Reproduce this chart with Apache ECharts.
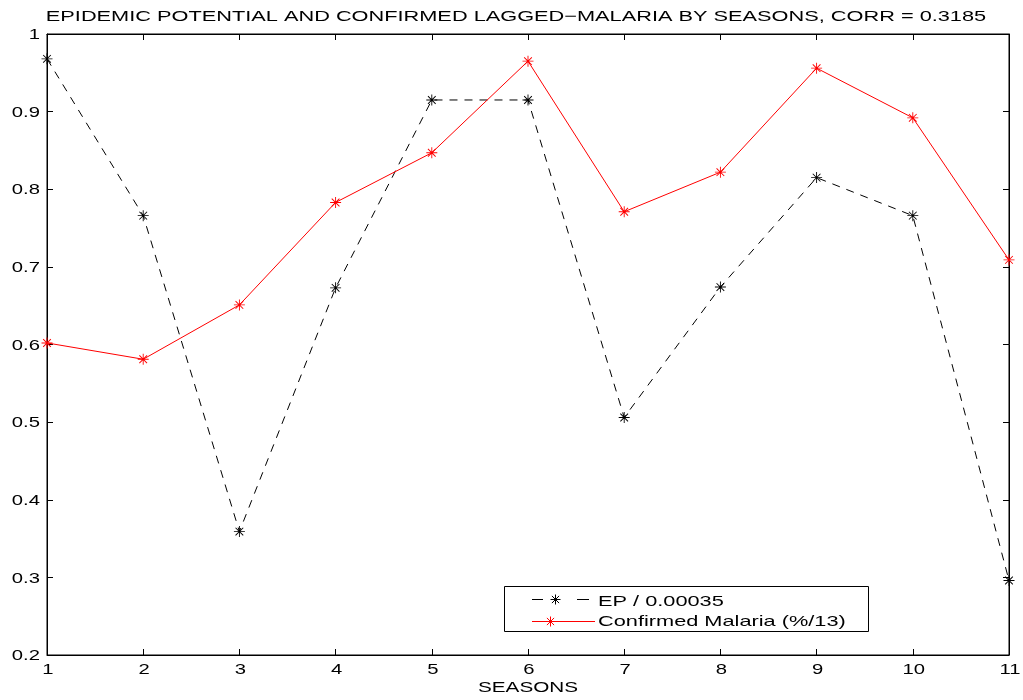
<!DOCTYPE html>
<html>
<head>
<meta charset="utf-8">
<script src="https://cdn.jsdelivr.net/npm/echarts@6/dist/echarts.min.js"></script>
<style>
  html, body { margin: 0; padding: 0; background: #fff; }
  #chart { width: 1023px; height: 700px; }
</style>
</head>
<body>
<div id="chart"></div>
<script>
// Seasons and the two normalised series
const seasons = [1, 2, 3, 4, 5, 6, 7, 8, 9, 10, 11];
const epValues = [0.968, 0.766, 0.359, 0.673, 0.915, 0.915, 0.506, 0.674, 0.815, 0.766, 0.296];
const malariaValues = [0.602, 0.581, 0.651, 0.783, 0.847, 0.965, 0.771, 0.822, 0.956, 0.892, 0.709];
const seriesNames = ['EP / 0.00035', 'Confirmed Malaria (%/13)'];
const xTickLabels = ['1', '2', '3', '4', '5', '6', '7', '8', '9', '10', '11'];
const yTickValues = [0.2, 0.3, 0.4, 0.5, 0.6, 0.7, 0.8, 0.9, 1];
const yTickLabels = ['0.2', '0.3', '0.4', '0.5', '0.6', '0.7', '0.8', '0.9', '1'];
const titleText = 'EPIDEMIC POTENTIAL AND CONFIRMED LAGGED\u2212MALARIA BY SEASONS, CORR = 0.3185';
const xAxisName = 'SEASONS';

// Asterisk marker built from four thin bars (+ and x overlaid)
const asterisk = 'path://M0,4.6L10,4.6L10,5.4L0,5.4Z M4.6,0L5.4,0L5.4,10L4.6,10Z ' +
  'M1.2,1.8L1.8,1.2L8.8,8.2L8.2,8.8Z M8.2,1.2L8.8,1.8L1.8,8.8L1.2,8.2Z';

const pairs = vals => seasons.map((s, i) => [s, vals[i]]);
const FONT = 'Liberation Sans, Arial, Helvetica, sans-serif';
const colors = ['#000000', '#ff0000'];

const chart = echarts.init(document.getElementById('chart'), null, { renderer: 'canvas' });

const tickStyle = { show: true, inside: true, length: 6, lineStyle: { color: '#000', width: 1 } };
const hiddenLabel = { show: false };

chart.setOption({
  backgroundColor: '#fff',
  animation: false,
  grid: {
    left: 47, right: 14, top: 34, bottom: 45,
    outerBoundsMode: 'none', containLabel: false,
    show: true, borderColor: '#000', borderWidth: 1
  },
  xAxis: [
    {
      type: 'value', min: 1, max: 11, interval: 1,
      axisLine: { show: true, onZero: false, lineStyle: { color: '#000', width: 1 } },
      axisTick: tickStyle, axisLabel: hiddenLabel, splitLine: { show: false }
    },
    {
      type: 'value', position: 'top', min: 1, max: 11, interval: 1,
      axisLine: { show: true, lineStyle: { color: '#000', width: 1 } },
      axisTick: tickStyle, axisLabel: hiddenLabel, splitLine: { show: false }
    }
  ],
  yAxis: [
    {
      type: 'value', min: 0.2, max: 1, interval: 0.1,
      axisLine: { show: true, onZero: false, lineStyle: { color: '#000', width: 1 } },
      axisTick: tickStyle, axisLabel: hiddenLabel, splitLine: { show: false }
    },
    {
      type: 'value', position: 'right', min: 0.2, max: 1, interval: 0.1,
      axisLine: { show: true, lineStyle: { color: '#000', width: 1 } },
      axisTick: tickStyle, axisLabel: hiddenLabel, splitLine: { show: false }
    }
  ],
  series: [
    {
      name: seriesNames[0],
      type: 'line',
      data: pairs(epValues),
      symbol: asterisk, symbolSize: 11, showAllSymbol: true,
      itemStyle: { color: colors[0] },
      lineStyle: { color: colors[0], width: 1, type: [8, 7] },
      z: 3
    },
    {
      name: seriesNames[1],
      type: 'line',
      data: pairs(malariaValues),
      symbol: asterisk, symbolSize: 11, showAllSymbol: true,
      itemStyle: { color: colors[1] },
      lineStyle: { color: colors[1], width: 1 },
      z: 4
    }
  ]
});

// Wide, horizontally stretched lettering used for all chart text
function label(text, x, y, align, size, stretch) {
  return {
    type: 'text', x: x, y: y, scaleX: stretch, scaleY: 1, z: 10,
    style: {
      text: text, x: 0, y: 0, fill: '#000',
      font: size + 'px ' + FONT,
      align: align, verticalAlign: 'middle',
      textAlign: align, textVerticalAlign: 'middle'
    }
  };
}

// Small asterisk drawn as four strokes, used in the legend samples
function star(cx, cy, r, color) {
  const d = r * 0.72;
  const segs = [
    [cx - r, cy, cx + r, cy],
    [cx, cy - r, cx, cy + r],
    [cx - d, cy - d, cx + d, cy + d],
    [cx - d, cy + d, cx + d, cy - d]
  ];
  return segs.map(s => ({
    type: 'line', z: 11,
    shape: { x1: s[0], y1: s[1], x2: s[2], y2: s[3] },
    style: { stroke: color, lineWidth: 1 }
  }));
}

const grid = chart.getModel().getComponent('grid').coordinateSystem.getRect();
const texts = [];

// Title above the plot box
texts.push(label(titleText, 516, 17, 'center', 15, 1.45));

// X tick labels under each season tick
seasons.forEach((s, i) => {
  const p = chart.convertToPixel({ xAxisIndex: 0, yAxisIndex: 0 }, [s, 0.2]);
  texts.push(label(xTickLabels[i], p[0] + 1, p[1] + 15, 'center', 15, 1.35));
});

// Y tick labels left of the box
yTickValues.forEach((v, i) => {
  const p = chart.convertToPixel({ xAxisIndex: 0, yAxisIndex: 0 }, [1, v]);
  texts.push(label(yTickLabels[i], p[0] - 7, p[1] + 1, 'right', 15, 1.35));
});

// Axis title
texts.push(label(xAxisName, grid.x + grid.width / 2, grid.y + grid.height + 33, 'center', 15, 1.38));

// Legend box with line samples, markers and names
const legendBox = { x: 504, y: 586, w: 364, h: 45 };
const rows = [
  { lineY: 599, textY: 602 },
  { lineY: 621, textY: 622 }
];
const legendItems = [
  {
    type: 'rect', z: 9,
    shape: { x: legendBox.x + 0.5, y: legendBox.y + 0.5, width: legendBox.w, height: legendBox.h },
    style: { fill: '#fff', stroke: '#000', lineWidth: 1 }
  }
];
seriesNames.forEach((name, i) => {
  const r = rows[i];
  const ly = r.lineY + 0.5;
  if (i === 0) {
    legendItems.push(
      { type: 'line', z: 10, shape: { x1: 532, y1: ly, x2: 543, y2: ly }, style: { stroke: colors[0], lineWidth: 1 } },
      { type: 'line', z: 10, shape: { x1: 577, y1: ly, x2: 589, y2: ly }, style: { stroke: colors[0], lineWidth: 1 } }
    );
  } else {
    legendItems.push(
      { type: 'line', z: 10, shape: { x1: 532, y1: ly, x2: 595, y2: ly }, style: { stroke: colors[1], lineWidth: 1 } }
    );
  }
  legendItems.push(...star(i === 0 ? 555.5 : 550.5, ly, 5, colors[i]));
  legendItems.push(label(name, 598, r.textY, 'left', 15, 1.45));
});

chart.setOption({ graphic: { elements: texts.concat(legendItems) } });
</script>
</body>
</html>
